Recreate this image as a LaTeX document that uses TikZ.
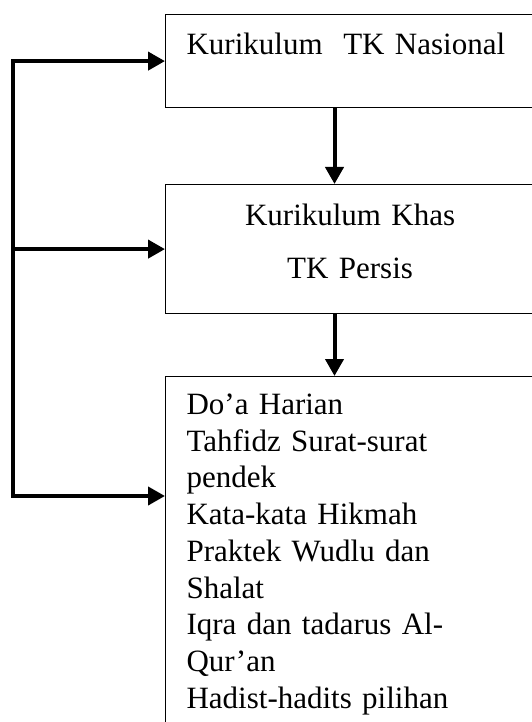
\documentclass[tikz,border=0pt]{standalone}
\usepackage{fontspec}
\setmainfont{Liberation Serif}
\usetikzlibrary{arrows.meta}
\tikzset{
	box/.style={draw,line width=1.2pt,anchor=north west,align=left,
		text width=327pt,inner xsep=21pt,minimum width=369pt,
		font=\fontsize{31pt}{36.7pt}\selectfont},
	link/.style={line width=4pt,>={Triangle[length=17pt,width=18pt]},->},
}
\begin{document}
\begin{tikzpicture}[x=1pt,y=-1pt]
	\useasboundingbox (0,0) rectangle (532,722);
	\clip (0,0) rectangle (532,722);
	\node[box,minimum height=93pt,text depth=35pt] (nasional) at (165,14)
		{Kurikulum~~TK Nasional};
	\node[box,minimum height=129pt,text depth=69pt,align=center,
		font=\fontsize{31pt}{53pt}\selectfont] (persis) at (165,184)
		{Kurikulum Khas\\TK Persis};
	\node[box,inner ysep=17.3pt] (doa) at (165,376)
		{Do’a Harian\\Tahfidz Surat-surat\\pendek\\Kata-kata Hikmah\\
		Praktek Wudlu dan\\Shalat\\Iqra dan tadarus Al-\\Qur’an\\
		Hadist-hadits pilihan};
	% alur ke bawah
	\draw[link] ([xshift=169.5pt]nasional.south west) -- ([xshift=169.5pt]persis.north west);
	\draw[link] ([xshift=169.5pt]persis.south west) -- ([xshift=169.5pt]doa.north west);
	% garis samping
	\coordinate (bus) at (13,0);
	\coordinate (doain) at ([yshift=-120pt]doa.north west);
	\draw[link,<->] (nasional.west) -| (bus |- doain) -- (doain);
	\draw[link] (bus |- persis.west) -- (persis.west);
\end{tikzpicture}
\end{document}
